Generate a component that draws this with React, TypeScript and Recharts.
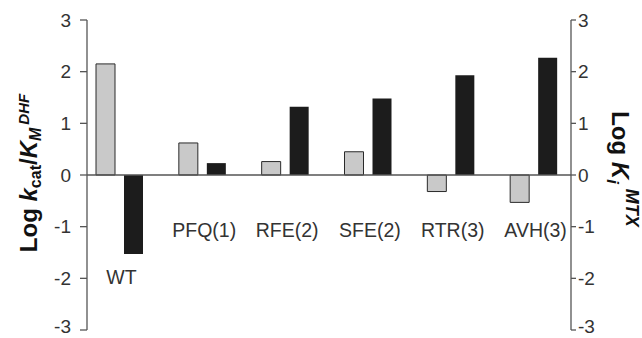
import { Bar, BarChart, ReferenceLine, XAxis, YAxis } from "recharts";

const categories = ["WT", "PFQ(1)", "RFE(2)", "SFE(2)", "RTR(3)", "AVH(3)"];
const logKcatKm = [2.15, 0.62, 0.26, 0.45, -0.32, -0.53];
const logKiMtx = [-1.53, 0.23, 1.32, 1.48, 1.93, 2.27];
const leftTicks = [-3, -2, -1, 0, 1, 2, 3];
const rightTicks = [-3, -2, -1, 0, 1, 2, 3];

const W = 642;
const H = 338;
const TOP = 20;
const BOTTOM = 8;
const PLOT_H = H - TOP - BOTTOM;
const FONT = "Arial, 'Liberation Sans', Helvetica, sans-serif";
const AXIS = "#555";
const TEXT = "#333";

const rows = categories.map((name, i) => ({
  name,
  kcat: logKcatKm[i],
  ki: logKiMtx[i],
}));

// pixel y for a value on the (shared) -3..3 scale
const toY = (v: number) => TOP + ((3 - v) / 6) * PLOT_H;

function CategoryTick(props: any) {
  const { x, payload } = props;
  const i = categories.indexOf(payload.value);
  const low = Math.min(logKcatKm[i], logKiMtx[i], 0);
  const v = Math.min(-1.07, low - 0.45);
  return (
    <text
      x={x + 2}
      y={toY(v)}
      textAnchor="middle"
      dominantBaseline="central"
      fill={TEXT}
      fontSize={19.5}
      fontFamily={FONT}
    >
      {payload.value}
    </text>
  );
}

// value ticks; the bottom one is nudged up so it stays inside the frame
function ValueTick(props: any) {
  const { x, y, payload, textAnchor } = props;
  return (
    <text
      x={x}
      y={Math.min(y, H - 12)}
      dy="0.355em"
      textAnchor={textAnchor}
      fill={TEXT}
      fontSize={19}
      fontFamily={FONT}
    >
      {payload.value}
    </text>
  );
}

function LeftTitle() {
  return (
    <text
      transform={`translate(37, ${TOP + PLOT_H / 2 - 2}) rotate(-90)`}
      textAnchor="middle"
      fill="#111"
      fontSize={24}
      fontWeight="bold"
      fontFamily={FONT}
    >
      Log{"  "}
      <tspan fontStyle="italic">k</tspan>
      <tspan fontSize={16} dy={4}>cat</tspan>
      <tspan dy={-4}>/</tspan>
      <tspan fontStyle="italic">K</tspan>
      <tspan fontSize={16} fontStyle="italic" dy={4}>M</tspan>
      <tspan fontSize={15} fontStyle="italic" dy={-12} dx={3}>DHF</tspan>
    </text>
  );
}

function RightTitle() {
  return (
    <text
      transform={`translate(612, ${TOP + PLOT_H / 2 - 6}) rotate(90)`}
      textAnchor="middle"
      fill="#111"
      fontSize={24}
      fontWeight="bold"
      fontFamily={FONT}
    >
      Log{"  "}
      <tspan fontStyle="italic">K</tspan>
      <tspan fontSize={17} fontStyle="italic" dy={5}>i</tspan>
      <tspan fontSize={18} fontStyle="italic" dy={-19} dx={5}>MTX</tspan>
    </text>
  );
}

export default function App() {
  return (
    <div style={{ width: W, height: H, background: "#fff" }}>
      <style>{`body{margin:0}`}</style>
      <BarChart
        width={W}
        height={H}
        data={rows}
        margin={{ top: TOP, right: 0, bottom: 0, left: 0 }}
        barGap={9}
        barSize={19}
      >
        <XAxis
          dataKey="name"
          axisLine={false}
          tickLine={false}
          height={BOTTOM}
          padding={{ left: -9, right: -4 }}
          tick={<CategoryTick />}
          interval={0}
        />
        <YAxis
          yAxisId="left"
          orientation="left"
          width={87}
          domain={[-3, 3]}
          ticks={leftTicks}
          interval={0}
          allowDataOverflow
          axisLine={{ stroke: AXIS, strokeWidth: 1.3 }}
          tickLine={{ stroke: AXIS, strokeWidth: 1.3 }}
          tickSize={7}
          tickMargin={9}
          tick={<ValueTick />}
        />
        <YAxis
          yAxisId="right"
          orientation="right"
          width={71}
          domain={[-3, 3]}
          ticks={rightTicks}
          interval={0}
          allowDataOverflow
          axisLine={{ stroke: AXIS, strokeWidth: 1.3 }}
          tickLine={{ stroke: AXIS, strokeWidth: 1.3 }}
          tickSize={5}
          tickMargin={2}
          tick={<ValueTick />}
        />
        <ReferenceLine yAxisId="left" y={0} stroke={AXIS} strokeWidth={1.3} />
        <Bar
          yAxisId="left"
          dataKey="kcat"
          fill="#c9c9c9"
          stroke="#2a2a2a"
          strokeWidth={1}
          isAnimationActive={false}
        />
        <Bar
          yAxisId="right"
          dataKey="ki"
          fill="#1c1c1c"
          isAnimationActive={false}
        />
        <LeftTitle />
        <RightTitle />
      </BarChart>
    </div>
  );
}
